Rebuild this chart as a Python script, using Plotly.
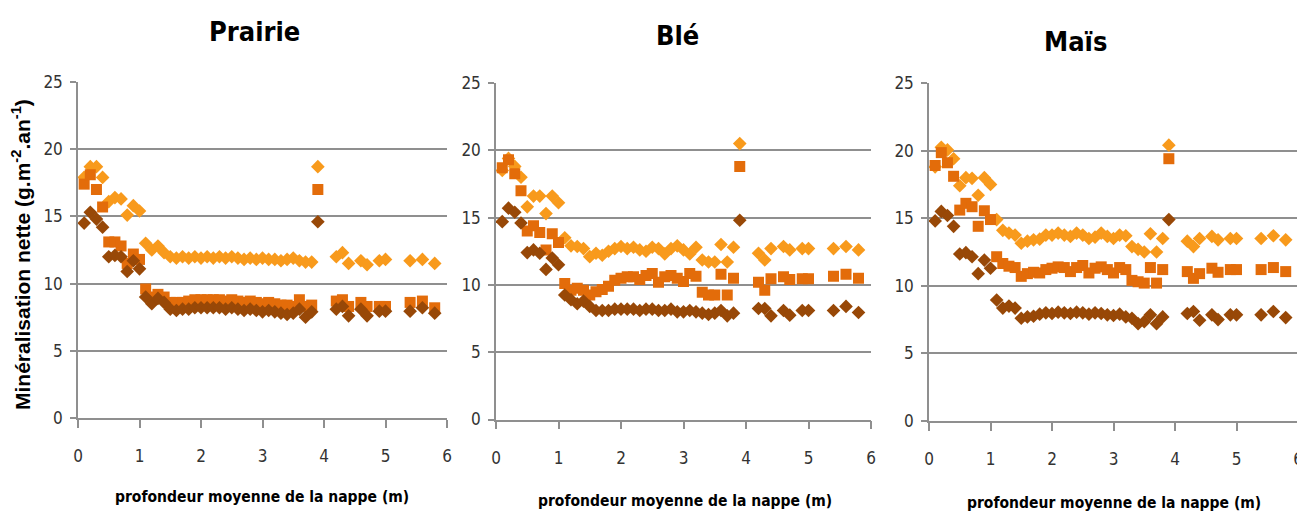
import plotly.graph_objects as go

# ---- data ----
depth = [0.1, 0.2, 0.3, 0.4, 0.5, 0.6, 0.7, 0.8, 0.9, 1.0,
         1.1, 1.2, 1.3, 1.4, 1.5, 1.6, 1.7, 1.8, 1.9, 2.0,
         2.1, 2.2, 2.3, 2.4, 2.5, 2.6, 2.7, 2.8, 2.9, 3.0,
         3.1, 3.2, 3.3, 3.4, 3.5, 3.6, 3.7, 3.8, 3.9,
         4.2, 4.3, 4.4, 4.6, 4.7, 4.9, 5.0, 5.4, 5.6, 5.8]

prairie_light = [17.9, 18.7, 18.7, 17.9, 16.1, 16.4, 16.3, 15.1, 15.8, 15.4,
                 13.0, 12.5, 12.8, 12.3, 12.0, 11.9, 12.0, 11.9, 12.0, 11.9,
                 12.0, 11.9, 12.0, 11.9, 12.0, 11.9, 11.8, 11.9, 11.8, 11.9,
                 11.8, 11.8, 11.7, 11.8, 11.9, 11.7, 11.6, 11.6, 18.7,
                 12.0, 12.3, 11.5, 11.7, 11.4, 11.7, 11.8, 11.7, 11.8, 11.5]
prairie_mid = [17.4, 18.1, 17.0, 15.7, 13.1, 13.1, 12.8, 11.5, 12.2, 11.8,
               9.6, 9.0, 9.2, 9.0, 8.6, 8.6, 8.6, 8.7, 8.8, 8.8,
               8.8, 8.8, 8.8, 8.7, 8.8, 8.7, 8.6, 8.7, 8.6, 8.5,
               8.6, 8.5, 8.4, 8.4, 8.3, 8.8, 8.3, 8.4, 17.0,
               8.7, 8.8, 8.3, 8.6, 8.3, 8.3, 8.3, 8.6, 8.7, 8.2]
prairie_dark = [14.5, 15.3, 14.8, 14.2, 12.0, 12.1, 12.0, 10.9, 11.7, 11.1,
                9.0, 8.5, 8.9, 8.6, 8.1, 8.0, 8.1, 8.1, 8.2, 8.2,
                8.2, 8.2, 8.2, 8.1, 8.2, 8.1, 8.0, 8.1, 8.0, 7.9,
                8.0, 7.9, 7.8, 7.7, 7.8, 8.1, 7.5, 7.9, 14.6,
                8.1, 8.3, 7.6, 8.1, 7.6, 7.95, 7.95, 7.95, 8.2, 7.8]

ble_light = [18.5, 19.4, 18.8, 18.0, 15.8, 16.6, 16.6, 15.3, 16.6, 16.1,
             13.5, 12.9, 12.85, 12.7, 12.1, 12.35, 12.2, 12.5, 12.7, 12.85,
             12.7, 12.8, 12.6, 12.5, 12.8, 12.7, 12.3, 12.7, 12.9, 12.6,
             12.3, 12.8, 11.85, 11.7, 11.7, 13.0, 11.7, 12.8, 20.5,
             12.35, 11.85, 12.7, 12.85, 12.6, 12.7, 12.7, 12.7, 12.85, 12.6]
ble_mid = [18.7, 19.3, 18.25, 17.0, 14.0, 14.4, 13.9, 12.6, 13.8, 13.15,
           10.1, 9.6, 9.75, 9.6, 9.25, 9.5, 9.65, 9.9, 10.35, 10.5,
           10.6, 10.6, 10.4, 10.7, 10.85, 10.2, 10.6, 10.7, 10.5, 10.25,
           10.85, 10.65, 9.45, 9.25, 9.25, 10.8, 9.25, 10.5, 18.8,
           10.2, 9.6, 10.45, 10.6, 10.4, 10.45, 10.45, 10.65, 10.8, 10.5]
ble_dark = [14.7, 15.7, 15.4, 14.6, 12.4, 12.6, 12.35, 11.15, 12.0, 11.5,
            9.25, 8.9, 8.6, 8.8, 8.4, 8.1, 8.1, 8.1, 8.2, 8.2,
            8.2, 8.2, 8.1, 8.2, 8.2, 8.1, 8.1, 8.2, 8.0, 8.0,
            8.1, 8.0, 7.9, 7.8, 7.9, 8.1, 7.7, 7.9, 14.8,
            8.25, 8.25, 7.7, 8.1, 7.75, 8.1, 8.1, 8.1, 8.4, 7.95]

mais_light = [18.8, 20.25, 20.05, 19.4, 17.4, 18.0, 17.95, 16.7, 18.0, 17.5,
              14.9, 14.1, 13.9, 13.75, 13.15, 13.3, 13.4, 13.45, 13.75, 13.75,
              13.9, 13.75, 13.65, 13.9, 13.75, 13.5, 13.6, 13.9, 13.65, 13.5,
              13.75, 13.7, 12.9, 12.7, 12.5, 13.85, 12.5, 13.5, 20.4,
              13.3, 12.9, 13.5, 13.65, 13.4, 13.5, 13.5, 13.5, 13.7, 13.4]
mais_mid = [18.9, 19.85, 19.1, 18.1, 15.6, 16.1, 15.85, 14.4, 15.55, 14.9,
            12.15, 11.65, 11.45, 11.35, 10.7, 10.9, 11.0, 10.95, 11.2, 11.3,
            11.4, 11.35, 11.05, 11.35, 11.5, 10.95, 11.3, 11.4, 11.2, 10.95,
            11.35, 11.2, 10.4, 10.3, 10.2, 11.35, 10.2, 11.2, 19.4,
            11.05, 10.55, 10.9, 11.3, 11.0, 11.2, 11.2, 11.2, 11.35, 11.05]
mais_dark = [14.8, 15.5, 15.2, 14.4, 12.35, 12.45, 12.15, 10.9, 11.9, 11.3,
             8.95, 8.35, 8.5, 8.35, 7.6, 7.7, 7.75, 7.9, 8.0, 7.95,
             8.05, 8.0, 7.95, 8.05, 8.0, 7.9, 8.0, 7.95, 7.85, 7.8,
             7.9, 7.7, 7.6, 7.2, 7.35, 7.85, 7.2, 7.7, 14.9,
             7.95, 8.1, 7.45, 7.85, 7.5, 7.85, 7.85, 7.85, 8.1, 7.65]

panel_titles = ["Prairie", "Blé", "Maïs"]
x_title = "profondeur moyenne de la nappe (m)"
y_title = "Minéralisation nette (g.m<sup>-2</sup>.an<sup>-1</sup>)"
x_ticks = [0, 1, 2, 3, 4, 5, 6]
y_ticks = [0, 5, 10, 15, 20, 25]

# ---- style ----
OFF = 8                      # the page body margin offsets the figure
W, H = 1305 - OFF, 515 - OFF
C_LIGHT = "#F89A1C"
C_MID = "#E36C0A"
C_DARK = "#984807"
GRID = "#8f8f8f"
NARROW = "DejaVu Sans Condensed, Liberation Sans Narrow, sans-serif"

# page-pixel boxes of each plot area: (left, right, top, bottom)
boxes = [(78, 447, 82, 418), (496, 871, 83, 419.5), (929, 1298, 83, 421)]
title_pos = [(254, 31), (677, 35), (1075, 41)]
xtitle_pos = [(262, 497), (685, 501), (1114, 503)]


def px(x):
    return (x - OFF) / W


def py(y):
    return 1 - (y - OFF) / H


panels = [(prairie_light, prairie_mid, prairie_dark),
          (ble_light, ble_mid, ble_dark),
          (mais_light, mais_mid, mais_dark)]

fig = go.Figure()
for i, (light, mid, dark) in enumerate(panels):
    xa = "x" if i == 0 else f"x{i+1}"
    ya = "y" if i == 0 else f"y{i+1}"
    fig.add_trace(go.Scatter(x=depth, y=light, mode="markers", xaxis=xa, yaxis=ya,
                             marker=dict(symbol="diamond", size=10.5, color=C_LIGHT, line=dict(width=0)),
                             showlegend=False, hoverinfo="x+y"))
    fig.add_trace(go.Scatter(x=depth, y=mid, mode="markers", xaxis=xa, yaxis=ya,
                             marker=dict(symbol="square", size=11, color=C_MID, line=dict(width=0)),
                             showlegend=False, hoverinfo="x+y"))
    fig.add_trace(go.Scatter(x=depth, y=dark, mode="markers", xaxis=xa, yaxis=ya,
                             marker=dict(symbol="diamond", size=10.5, color=C_DARK, line=dict(width=0)),
                             showlegend=False, hoverinfo="x+y"))

layout = dict(width=W, height=H, margin=dict(l=0, r=0, t=0, b=0, autoexpand=False),
              paper_bgcolor="white", plot_bgcolor="white", showlegend=False)
annotations = []
for i, (l, r, t, b) in enumerate(boxes):
    xk = "xaxis" if i == 0 else f"xaxis{i+1}"
    yk = "yaxis" if i == 0 else f"yaxis{i+1}"
    ya = "y" if i == 0 else f"y{i+1}"
    xa = "x" if i == 0 else f"x{i+1}"
    layout[xk] = dict(domain=[px(l), px(r)], range=[0, 6], anchor=ya, automargin=False,
                      tickvals=x_ticks, ticktext=[str(v) for v in x_ticks],
                      showgrid=False, zeroline=False, showline=True,
                      linecolor=GRID, linewidth=1.5, ticks="outside", ticklen=8,
                      tickwidth=1.5, tickcolor=GRID, ticklabelstandoff=14,
                      tickfont=dict(family=NARROW, size=17, color="#333333"),
                      fixedrange=True)
    layout[yk] = dict(domain=[py(b), py(t)], range=[0, 25], anchor=xa,
                      automargin=False,
                      tickvals=y_ticks, ticktext=[str(v) for v in y_ticks],
                      showgrid=True, gridcolor=GRID, gridwidth=1.5, zeroline=False,
                      showline=True, linecolor=GRID, linewidth=1.5,
                      ticks="outside", ticklen=6, tickwidth=1.5, tickcolor=GRID,
                      ticklabelstandoff=4,
                      tickfont=dict(family=NARROW, size=17, color="#333333"),
                      fixedrange=True)
    tx, ty = title_pos[i]
    annotations.append(dict(text=f"<b>{panel_titles[i]}</b>", x=px(tx), y=py(ty),
                            xref="paper", yref="paper", xanchor="center", yanchor="middle",
                            showarrow=False, font=dict(family=NARROW, size=27, color="black")))
    ax_, ay_ = xtitle_pos[i]
    annotations.append(dict(text=f"<b>{x_title}</b>", x=px(ax_), y=py(ay_),
                            xref="paper", yref="paper", xanchor="center", yanchor="middle",
                            showarrow=False, font=dict(family=NARROW, size=15.5, color="black")))

annotations.append(dict(text=f"<b>{y_title}</b>", x=px(21), y=py(255),
                        xref="paper", yref="paper", xanchor="center", yanchor="middle",
                        textangle=-90, showarrow=False,
                        font=dict(family="Liberation Sans, Arial, sans-serif", size=21, color="black")))
layout["annotations"] = annotations
fig.update_layout(**layout)

fig.write_html("out.html")
